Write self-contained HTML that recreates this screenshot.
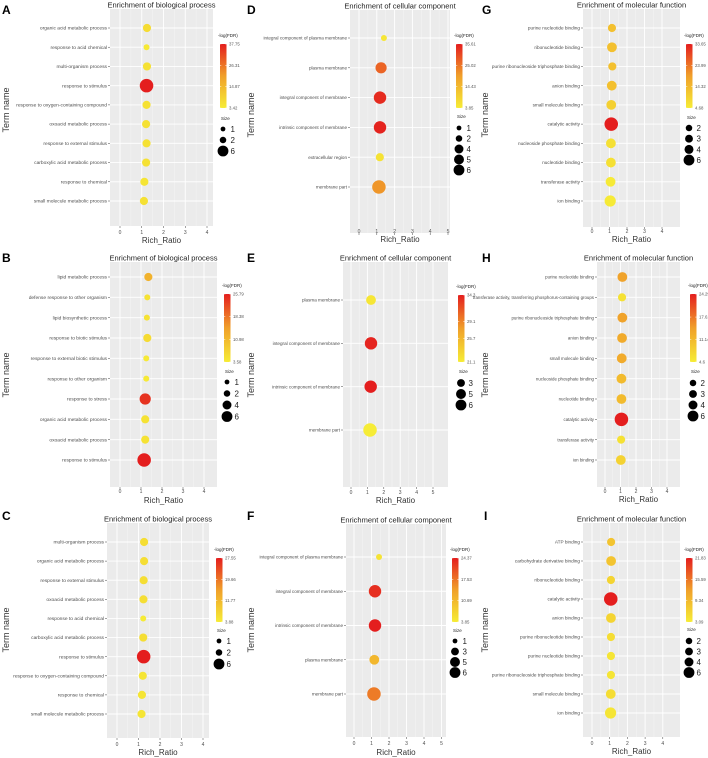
<!DOCTYPE html>
<html><head><meta charset="utf-8">
<style>
html,body{margin:0;padding:0;background:#fff;}
svg{display:block;font-family:"Liberation Sans",sans-serif;}
</style></head>
<body>
<svg id="fig" width="708" height="758" viewBox="0 0 708 758"></svg>
<script>
// ---- Data ----
const aTerms=["organic acid metabolic process","response to acid chemical","multi-organism process","response to stimulus","response to oxygen-containing compound","oxoacid metabolic process","response to external stimulus","carboxylic acid metabolic process","response to chemical","small molecule metabolic process"];
const aRatio=[1.24,1.22,1.24,1.22,1.22,1.2,1.22,1.2,1.12,1.1];
const aCount=[2,1,2,6,2,2,2,2,2,2];
const aLogFDR=[7,4,6,37.75,6,6,6,6,5,6];
const aColorTicks=[37.75,26.31,14.87,3.42];
const aSizeTicks=[1,2,6];

const bTerms=["lipid metabolic process","defense response to other organism","lipid biosynthetic process","response to biotic stimulus","response to external biotic stimulus","response to other organism","response to stress","organic acid metabolic process","oxoacid metabolic process","response to stimulus"];
const bRatio=[1.35,1.3,1.28,1.3,1.25,1.25,1.2,1.2,1.2,1.15];
const bCount=[2,1,1,2,1,1,4,2,2,6];
const bLogFDR=[12,5,5,6,4,4,24,5,5,25.79];
const bColorTicks=[25.79,18.38,10.98,3.58];
const bSizeTicks=[1,2,4,6];

const cTerms=["multi-organism process","organic acid metabolic process","response to external stimulus","oxoacid metabolic process","response to acid chemical","carboxylic acid metabolic process","response to stimulus","response to oxygen-containing compound","response to chemical","small molecule metabolic process"];
const cRatio=[1.26,1.26,1.24,1.23,1.22,1.22,1.24,1.2,1.16,1.14];
const cCount=[2,2,2,2,1,2,6,2,2,2];
const cLogFDR=[6,6,6,6,4,6,27.55,5,5,5];
const cColorTicks=[27.55,19.66,11.77,3.88];
const cSizeTicks=[1,2,6];

const dTerms=["integral component of plasma membrane","plasma membrane","integral component of membrane","intrinsic component of membrane","extracellular region","membrane part"];
const dRatio=[1.4,1.24,1.18,1.18,1.17,1.12];
const dCount=[1,4,5,5,2,6];
const dLogFDR=[5,27,34,35,6,21];
const dColorTicks=[35.61,25.02,14.43,3.85];
const dSizeTicks=[1,2,4,5,6];

const eTerms=["plasma membrane","integral component of membrane","intrinsic component of membrane","membrane part"];
const eRatio=[1.22,1.22,1.2,1.16];
const eCount=[3,5,5,6];
const eLogFDR=[21.6,34,34.3,21.1];
const eColorTicks=[34.3,29.1,25.7,21.1];
const eSizeTicks=[3,5,6];

const fTerms=["integral component of plasma membrane","integral component of membrane","intrinsic component of membrane","plasma membrane","membrane part"];
const fRatio=[1.43,1.2,1.2,1.16,1.14];
const fCount=[1,5,5,3,6];
const fLogFDR=[5,23,24.37,11,17];
const fColorTicks=[24.37,17.53,10.69,3.85];
const fSizeTicks=[1,3,5,6];

const gTerms=["purine nucleotide binding","ribonucleotide binding","purine ribonucleoside triphosphate binding","anion binding","small molecule binding","catalytic activity","nucleoside phosphate binding","nucleotide binding","transferase activity","ion binding"];
const gRatio=[1.14,1.14,1.16,1.13,1.1,1.1,1.08,1.08,1.06,1.04];
const gCount=[2,3,2,3,3,6,3,3,3,4];
const gLogFDR=[13,13,13,13,10,33.65,7,7,5,5];
const gColorTicks=[33.65,23.99,14.32,4.68];
const gSizeTicks=[2,3,4,6];

const hTerms=["purine nucleotide binding","transferase activity, transferring phosphorus-containing groups","purine ribonucleoside triphosphate binding","anion binding","small molecule binding","nucleoside phosphate binding","nucleotide binding","catalytic activity","transferase activity","ion binding"];
const hRatio=[1.12,1.1,1.12,1.1,1.08,1.06,1.06,1.06,1.04,1.02];
const hCount=[3,2,3,3,3,3,3,6,2,3];
const hLogFDR=[14,6,14,13,13,11,11,24.29,6,8];
const hColorTicks=[24.29,17.61,11.14,4.60];
const hSizeTicks=[2,3,4,6];

const iTerms=["ATP binding","carbohydrate derivative binding","ribonucleotide binding","catalytic activity","anion binding","purine ribonucleotide binding","purine nucleotide binding","purine ribonucleoside triphosphate binding","small molecule binding","ion binding"];
const iRatio=[1.08,1.08,1.07,1.06,1.07,1.07,1.07,1.07,1.06,1.05];
const iCount=[2,3,2,6,3,2,2,2,3,4];
const iLogFDR=[8,8,6,21.83,6,5,4,4,5,4];
const iColorTicks=[21.83,15.59,9.34,3.09];
const iSizeTicks=[2,3,4,6];

const xTicks4=[0,1,2,3,4];
const xTicks5=[0,1,2,3,4,5];

// ---- Panel layout ----
const BP="Enrichment of biological process",CC="Enrichment of cellular component",MF="Enrichment of molecular function";
const panels=[
 {id:"a",L:"A",lx:2,ly:14,title:BP,terms:aTerms,ratio:aRatio,count:aCount,fdr:aLogFDR,ct:aColorTicks,st:aSizeTicks,xt:xTicks4,fs:4.9,px:110,py:9,pw:103,ph:217,x0:120,ux:21.75,t0:28,t1:201,tly:234,aty:243,tnx:9,tny:110,cbx:220,cby:44,cbh:64,sty:120,sy0:129,sstep:11},
 {id:"b",L:"B",lx:2,ly:262,title:BP,terms:bTerms,ratio:bRatio,count:bCount,fdr:bLogFDR,ct:bColorTicks,st:bSizeTicks,xt:xTicks4,fs:4.9,px:110,py:262,pw:107,ph:225,x0:120,ux:21,t0:277,t1:460,tly:493,aty:503,tnx:9,tny:375,cbx:224,cby:294,cbh:68,sty:373,sy0:382,sstep:11.5},
 {id:"c",L:"C",lx:2,ly:520,title:BP,terms:cTerms,ratio:cRatio,count:cCount,fdr:cLogFDR,ct:cColorTicks,st:cSizeTicks,xt:xTicks4,fs:4.9,px:107,py:523,pw:102,ph:215,x0:117,ux:21.5,t0:542,t1:714,tly:746,aty:755,tnx:9,tny:630,cbx:216,cby:558,cbh:64,sty:632,sy0:641,sstep:11.5},
 {id:"d",L:"D",lx:247,ly:14,title:CC,terms:dTerms,ratio:dRatio,count:dCount,fdr:dLogFDR,ct:dColorTicks,st:dSizeTicks,xt:xTicks5,fs:4.6,px:350,py:10,pw:100,ph:223,x0:359,ux:17.8,t0:38,t1:187,tly:233,aty:242,tnx:254,tny:115,cbx:456,cby:44,cbh:64,sty:118,sy0:128,sstep:10.5},
 {id:"e",L:"E",lx:247,ly:262,title:CC,terms:eTerms,ratio:eRatio,count:eCount,fdr:eLogFDR,ct:eColorTicks,st:eSizeTicks,xt:xTicks5,fs:4.6,px:343,py:262,pw:105,ph:225,x0:351,ux:16.4,t0:300,t1:430,tly:494,aty:503,tnx:254,tny:375,cbx:458,cby:295,cbh:67,sty:373,sy0:383,sstep:11},
 {id:"f",L:"F",lx:247,ly:520,title:CC,terms:fTerms,ratio:fRatio,count:fCount,fdr:fLogFDR,ct:fColorTicks,st:fSizeTicks,xt:xTicks5,fs:4.6,px:346,py:524,pw:100,ph:213,x0:354,ux:17.5,t0:557,t1:694,tly:745,aty:755,tnx:254,tny:630,cbx:452,cby:558,cbh:64,sty:632,sy0:641,sstep:10.5},
 {id:"g",L:"G",lx:482,ly:14,title:MF,terms:gTerms,ratio:gRatio,count:gCount,fdr:gLogFDR,ct:gColorTicks,st:gSizeTicks,xt:xTicks4,fs:4.7,px:583,py:9,pw:97,ph:218,x0:592,ux:17.5,t0:28,t1:201,tly:233,aty:242,tnx:488,tny:115,cbx:686,cby:44,cbh:64,sty:119,sy0:128,sstep:10.7},
 {id:"h",L:"H",lx:482,ly:262,title:MF,terms:hTerms,ratio:hRatio,count:hCount,fdr:hLogFDR,ct:hColorTicks,st:hSizeTicks,xt:xTicks4,fs:4.4,px:597,py:262,pw:83,ph:225,x0:605,ux:15.5,t0:277,t1:460,tly:493,aty:502,tnx:488,tny:375,cbx:690,cby:294,cbh:68,sty:373,sy0:383,sstep:11},
 {id:"i",L:"I",lx:484,ly:520,title:MF,terms:iTerms,ratio:iRatio,count:iCount,fdr:iLogFDR,ct:iColorTicks,st:iSizeTicks,xt:xTicks4,fs:4.7,px:583,py:523,pw:97,ph:214,x0:592,ux:17.7,t0:542,t1:713,tly:745,aty:754,tnx:488,tny:630,cbx:686,cby:558,cbh:64,sty:631,sy0:641,sstep:10.5}
];

const NS="http://www.w3.org/2000/svg";
const svg=document.getElementById("fig");
function mk(tag,attrs,parent){const e=document.createElementNS(NS,tag);for(const k in attrs)e.setAttribute(k,attrs[k]);(parent||svg).appendChild(e);return e;}
function lerp(a,b,t){return Math.round(a+(b-a)*t);}
const stops=[[246,236,54],[240,160,42],[228,30,30]];
function colorAt(t){t=Math.max(0,Math.min(1,t));let s=t<0.5?0:1,u=t<0.5?t*2:(t-0.5)*2;const c0=stops[s],c1=stops[s+1];return "rgb("+lerp(c0[0],c1[0],u)+","+lerp(c0[1],c1[1],u)+","+lerp(c0[2],c1[2],u)+")";}
function radius(n){return 2.6*Math.sqrt(n)+0.4;}

const defs=mk("defs",{});
const grad=mk("linearGradient",{id:"cbgrad",x1:"0",y1:"1",x2:"0",y2:"0"},defs);
[0,0.5,1].forEach(o=>mk("stop",{offset:o,"stop-color":colorAt(o)},grad));

panels.forEach(p=>{
  const g=mk("g",{});
  
  
  const xScale=v=>p.x0+v*p.ux;
  const n=p.terms.length;
  const yScale=i=>n===1?p.t0:p.t0+(p.t1-p.t0)*i/(n-1);
  const lo=p.ct[p.ct.length-1],hi=p.ct[0];
  const cScale=v=>colorAt((v-lo)/(hi-lo));

  const letter=mk("text",{x:p.lx,y:p.ly,"font-size":12,"font-weight":"bold",fill:"#000"},g);
  letter.textContent=p.L;
  
  

  const title=mk("text",{x:p.px+p.pw/2,y:p.py-1.5,"font-size":7.5,"text-anchor":"middle",fill:"#222"},g);
  title.textContent=p.title;
  
  

  const bg=mk("rect",{x:p.px,y:p.py,width:p.pw,height:p.ph,fill:"#ebebeb"},g);
  
  

  for(let k=0;k<p.xt.length-1;k++){const xm=xScale(p.xt[k]+0.5);mk("line",{x1:xm,x2:xm,y1:p.py,y2:p.py+p.ph,stroke:"#f5f5f5","stroke-width":0.5},g);}
  p.xt.forEach(v=>{
    const x=xScale(v);
    mk("line",{x1:x,x2:x,y1:p.py,y2:p.py+p.ph,stroke:"#fff","stroke-width":0.9},g);
    mk("line",{x1:x,x2:x,y1:p.py+p.ph,y2:p.py+p.ph+2,stroke:"#444","stroke-width":0.5},g);
    const tl=mk("text",{x:x,y:p.tly,"font-size":5,"text-anchor":"middle",fill:"#4d4d4d"},g);
    tl.textContent=v;
    
    
  });
  p.terms.forEach((t,i)=>{
    const y=yScale(i);
    mk("line",{x1:p.px,x2:p.px+p.pw,y1:y,y2:y,stroke:"#fff","stroke-width":0.9},g);
    mk("line",{x1:p.px-2,x2:p.px,y1:y,y2:y,stroke:"#444","stroke-width":0.5},g);
    const lab=mk("text",{x:p.px-3,y:y+1.6,"font-size":p.fs,"text-anchor":"end",fill:"#4d4d4d"},g);
    lab.textContent=t;
    
    
  });
  p.terms.forEach((t,i)=>{
    const c=mk("circle",{cx:xScale(p.ratio[i]),cy:yScale(i),r:radius(p.count[i]),fill:cScale(p.fdr[i])},g);
    
    
  });
  const xt=mk("text",{x:p.px+p.pw/2,y:p.aty,"font-size":8,"text-anchor":"middle",fill:"#333"},g);
  xt.textContent="Rich_Ratio";
  
  
  const yt=mk("text",{x:p.tnx,y:p.tny,"font-size":9,"text-anchor":"middle",fill:"#333",transform:"rotate(-90 "+p.tnx+" "+p.tny+")"},g);
  yt.textContent="Term name";
  
  

  const lt=mk("text",{x:p.cbx-2,y:p.cby-7,"font-size":4.5,fill:"#222"},g);
  lt.textContent="-log(FDR)";
  
  
  const cb=mk("rect",{x:p.cbx,y:p.cby,width:6.5,height:p.cbh,fill:"url(#cbgrad)"},g);
  
  
  p.ct.forEach((v,k)=>{
    const y=p.cby+p.cbh*(hi-v)/(hi-lo);
    mk("line",{x1:p.cbx,x2:p.cbx+1.3,y1:y,y2:y,stroke:"#fff","stroke-width":0.5},g);
    mk("line",{x1:p.cbx+5.2,x2:p.cbx+6.5,y1:y,y2:y,stroke:"#fff","stroke-width":0.5},g);
    const tl=mk("text",{x:p.cbx+9,y:y+1.5,"font-size":4.3,fill:"#555"},g);
    tl.textContent=v.toFixed(String(v).split(".")[1]?String(v).split(".")[1].length:0);
    
    
  });
  const stl=mk("text",{x:p.cbx+1,y:p.sty,"font-size":4.5,fill:"#222"},g);
  stl.textContent="Size";
  
  
  p.st.forEach((s,k)=>{
    const y=p.sy0+k*p.sstep;
    const c=mk("circle",{cx:p.cbx+3,cy:y,r:radius(s)*0.8,fill:"#000"},g);
    
    
    const tl=mk("text",{x:p.cbx+10.5,y:y+3,"font-size":8,fill:"#222"},g);
    tl.textContent=s;
    
    
  });
});
</script>
</body></html>
